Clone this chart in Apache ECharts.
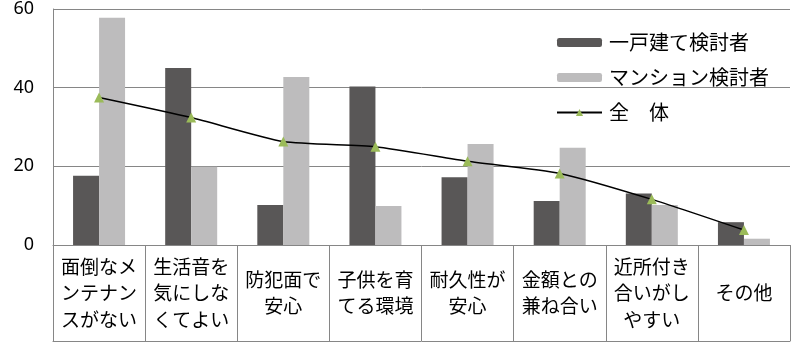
<!DOCTYPE html>
<html><head><meta charset="utf-8">
<script src="https://cdn.jsdelivr.net/npm/echarts@6/dist/echarts.min.js"></script>
<style>html,body{margin:0;padding:0;background:#fff}#c{width:800px;height:343px}</style>
</head><body><div id="c"></div>
<script>
const categories = ['面倒なメ\nンテナン\nスがない','生活音を\n気にしな\nくてよい','防犯面で\n安心','子供を育\nてる環境','耐久性が\n安心','金額との\n兼ね合い','近所付き\n合いがし\nやすい','その他'];
const houseValues = [17.6, 45.0, 10.2, 40.3, 17.2, 11.2, 13.1, 5.8];
const mansionValues = [57.8, 19.9, 42.7, 9.9, 25.7, 24.7, 10.2, 1.6];
const totalValues = [37.5, 32.4, 26.3, 25.0, 21.3, 18.2, 11.6, 3.8];
const seriesNames = ['一戸建て検討者', 'マンション検討者', '全　体'];
const yTicks = [0, 20, 40, 60];

const cjk = '"Noto Sans CJK JP", "Noto Sans", sans-serif';
const axisGray = '#868686';
const chart = echarts.init(document.getElementById('c'));
chart.setOption({
  animation: false,
  backgroundColor: '#fff',
  grid: {left: 53, right: 10, top: 9, bottom: 98, containLabel: false},
  legend: {
    orient: 'vertical', left: 556, top: 32, padding: 0,
    itemWidth: 45, itemHeight: 9, itemGap: 14,
    textStyle: {fontFamily: cjk, fontSize: 20, color: '#000', lineHeight: 21, padding: [0,0,0,2]},
    data: seriesNames
  },
  xAxis: [{
    type: 'category', data: categories, boundaryGap: true,
    axisLine: {show: true, lineStyle: {color: axisGray, width: 1}},
    axisTick: {show: true, length: 96, interval: 0, lineStyle: {color: axisGray, width: 1}},
    axisLabel: {interval: 0, margin: 48, verticalAlign: 'middle', align: 'center', fontFamily: cjk, fontSize: 19, lineHeight: 26.5, color: '#000'}
  }, {
    type: 'category', data: categories, position: 'bottom', offset: 96, gridIndex: 0,
    axisLine: {show: true, lineStyle: {color: axisGray, width: 1}},
    axisTick: {show: false}, axisLabel: {show: false}
  }],
  yAxis: {
    type: 'value', min: yTicks[0], max: yTicks[yTicks.length - 1], interval: 20,
    axisLine: {show: true, lineStyle: {color: axisGray, width: 1}},
    axisTick: {show: false},
    splitLine: {show: true, lineStyle: {color: axisGray, width: 1}},
    axisLabel: {margin: 19, fontFamily: '"Noto Sans", sans-serif', fontSize: 18, color: '#000'}
  },
  series: [
    {name: seriesNames[0], type: 'bar', data: houseValues, barWidth: 26, barGap: '0%', itemStyle: {color: '#595757'}},
    {name: seriesNames[1], type: 'bar', data: mansionValues, barWidth: 26, barGap: '0%', itemStyle: {color: '#bdbcbd'}},
    {name: seriesNames[2], type: 'line', data: totalValues, smooth: 0.2, symbol: 'triangle', symbolSize: 10,
     lineStyle: {color: '#000', width: 1.5}, itemStyle: {color: '#9bbb59'}, z: 5}
  ]
});
</script></body></html>
